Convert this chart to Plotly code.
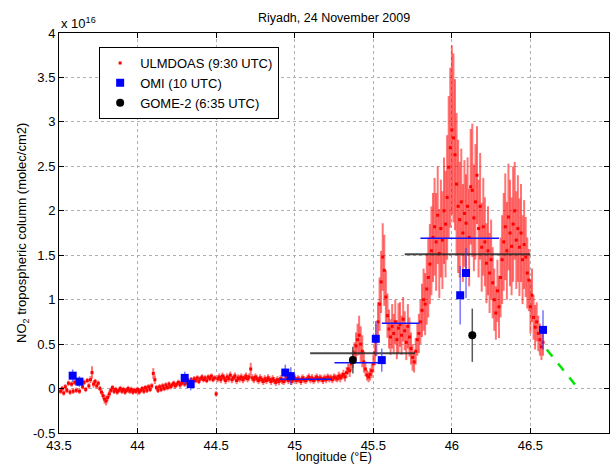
import plotly.graph_objects as go

# ---------------- DATA (values in units of 1e16 molec/cm2) ----------------
ulm_lon = [43.51,43.52,43.53,43.54,43.55,43.56,43.57,43.58,43.59,43.60,43.61,43.62,43.63,43.64,43.65,43.66,43.67,43.68,43.69,43.70,
           43.71,43.72,43.73,43.74,43.75,43.76,43.77,43.78,43.79,43.80,43.81,43.82,43.83,43.84,43.85,43.86,43.87,43.88,43.89,43.90,
           43.91,43.92,43.93,43.94,43.95,43.96,43.97,43.98,43.99,44.00,44.01,44.02,44.03,44.04,44.05,44.06,44.07,44.08,44.09,44.10,
           44.11,44.12,44.13,44.14,44.15,44.16,44.17,44.18,44.19,44.20,44.21,44.22,44.23,44.24,44.25,44.26,44.27,44.28,44.29,44.30,
           44.31,44.32,44.33,44.34,44.35,44.36,44.37,44.38,44.39,44.40,44.41,44.42,44.43,44.44,44.45,44.46,44.47,44.48,44.49,44.50,
           44.51,44.52,44.53,44.54,44.55,44.56,44.57,44.58,44.59,44.60,44.61,44.62,44.63,44.64,44.65,44.66,44.67,44.68,44.69,44.70,
           44.71,44.72,44.73,44.74,44.75,44.76,44.77,44.78,44.79,44.80,44.81,44.82,44.83,44.84,44.85,44.86,44.87,44.88,44.89,44.90,
           44.91,44.92,44.93,44.94,44.95,44.96,44.97,44.98,44.99,45.00,45.01,45.02,45.03,45.04,45.05,45.06,45.07,45.08,45.09,45.10,
           45.11,45.12,45.13,45.14,45.15,45.16,45.17,45.18,45.19,45.20,45.21,45.22,45.23,45.24,45.25,45.26,45.27,45.28,45.29,
           45.30,45.31,45.32,45.33,45.34,45.35,45.36,45.37,45.38,45.39,45.40,45.41,45.42,45.43,45.44,45.45,45.46,45.47,45.48,45.49,
           45.50,45.51,45.52,45.53,45.54,45.55,45.56,45.57,45.58,45.59,45.60,45.61,45.62,45.63,45.64,45.65,45.66,45.67,45.68,45.69,
           45.70,45.71,45.72,45.73,45.74,45.75,45.76,45.77,45.78,45.79,45.80,45.81,45.82,45.83,45.84,45.85,45.86,45.87,45.88,45.89,
           45.90,45.91,45.92,45.93,45.94,45.95,45.96,45.97,45.98,45.99,46.00,46.01,46.02,46.03,46.04,46.05,46.06,46.07,46.08,46.09,
           46.10,46.11,46.12,46.13,46.14,46.15,46.16,46.17,46.18,46.19,46.20,46.21,46.22,46.23,46.24,46.25,46.26,46.27,46.28,46.29,
           46.30,46.31,46.32,46.33,46.34,46.35,46.36,46.37,46.38,46.39,46.40,46.41,46.42,46.43,46.44,46.45,46.46,46.47,46.48,46.49,
           46.50,46.51,46.52,46.53,46.54,46.55,46.56,46.57,46.58]
ulm_val = [-0.03,0.00,-0.05,0.02,-0.02,0.06,-0.04,0.05,-0.03,0.07,-0.02,0.06,-0.03,0.08,0.02,0.07,-0.01,0.09,0.03,0.10,
           0.18,0.05,0.08,0.03,0.06,0.00,-0.04,-0.08,-0.12,-0.14,-0.10,-0.06,-0.02,0.01,-0.03,-0.01,-0.04,-0.02,0.00,-0.03,
           -0.01,-0.04,-0.02,0.00,-0.03,-0.01,-0.04,-0.02,-0.03,-0.01,-0.04,-0.02,0.00,-0.03,0.01,-0.02,0.02,-0.01,0.03,0.17,
           0.10,0.01,-0.02,0.02,-0.01,0.03,0.00,0.04,0.01,0.05,0.02,0.04,0.06,0.03,0.05,0.07,0.04,0.06,0.08,0.05,
           0.07,0.09,0.06,0.10,0.08,0.11,0.09,0.12,0.08,0.11,0.13,0.10,0.12,0.09,0.13,0.11,0.14,0.10,0.12,-0.06,
           0.11,0.13,0.10,0.14,0.12,0.09,0.13,0.11,0.15,0.10,0.12,0.14,0.09,0.12,0.11,0.13,0.10,0.12,0.14,0.11,
           0.13,0.22,0.12,0.10,0.13,0.11,0.09,0.12,0.10,0.08,0.11,0.09,0.12,0.10,0.08,0.11,0.09,0.07,0.10,0.08,
           0.11,0.09,0.08,0.10,0.12,0.09,0.11,0.08,0.10,0.12,0.09,0.11,0.10,0.08,0.12,0.10,0.09,0.11,0.13,0.10,
           0.12,0.09,0.11,0.13,0.10,0.12,0.11,0.09,0.12,0.10,0.13,0.11,0.12,0.10,0.13,0.12,0.11,0.14,0.12,
           0.14,0.16,0.13,0.18,0.22,0.20,0.28,0.33,0.40,0.48,0.55,0.60,0.50,0.42,0.30,0.22,0.15,0.13,0.16,0.20,
           0.28,0.40,0.55,0.75,0.95,1.20,1.48,1.33,1.03,0.82,0.67,0.58,0.70,0.62,0.75,0.55,0.68,0.72,0.60,0.78,
           0.65,0.52,0.70,0.58,0.45,0.35,0.30,0.42,0.55,0.62,0.75,0.88,1.00,0.95,1.12,1.25,1.40,1.55,1.70,1.82,
           1.65,1.95,1.52,1.80,1.67,2.00,1.85,2.15,2.49,2.71,2.91,2.82,2.63,2.30,2.05,1.90,2.10,1.75,1.97,1.86,
           2.05,1.70,2.27,2.23,1.92,2.10,2.40,1.80,2.05,1.59,1.82,1.65,1.41,1.55,1.30,1.45,1.19,1.00,0.85,1.10,
           0.92,1.25,1.45,1.65,1.82,1.55,1.93,1.75,1.60,1.85,2.00,1.67,1.80,1.59,1.75,1.45,1.62,1.48,1.30,1.22,
           0.92,1.05,0.80,0.69,0.75,0.62,0.55,0.47,0.52]
ulm_err = [0.03,0.03,0.03,0.03,0.03,0.03,0.03,0.03,0.03,0.03,0.03,0.03,0.03,0.03,0.03,0.03,0.03,0.03,0.03,0.04,
           0.07,0.04,0.03,0.03,0.03,0.03,0.03,0.04,0.05,0.05,0.04,0.04,0.03,0.03,0.03,0.03,0.03,0.03,0.03,0.03,
           0.03,0.03,0.03,0.03,0.03,0.03,0.03,0.03,0.03,0.03,0.03,0.03,0.03,0.03,0.03,0.03,0.03,0.03,0.03,0.06,
           0.05,0.03,0.03,0.03,0.03,0.03,0.03,0.03,0.03,0.03,0.03,0.03,0.03,0.03,0.03,0.03,0.03,0.03,0.03,0.03,
           0.03,0.03,0.03,0.03,0.03,0.03,0.03,0.03,0.03,0.03,0.03,0.03,0.03,0.03,0.03,0.03,0.03,0.03,0.03,0.03,
           0.04,0.04,0.04,0.04,0.04,0.04,0.04,0.04,0.04,0.04,0.04,0.04,0.04,0.04,0.04,0.04,0.04,0.04,0.04,0.04,
           0.04,0.07,0.04,0.04,0.04,0.04,0.04,0.04,0.04,0.04,0.04,0.04,0.04,0.04,0.04,0.04,0.04,0.04,0.04,0.04,
           0.04,0.04,0.04,0.04,0.04,0.04,0.04,0.04,0.04,0.04,0.04,0.04,0.04,0.04,0.04,0.04,0.04,0.04,0.04,0.04,
           0.04,0.04,0.04,0.04,0.04,0.04,0.04,0.04,0.04,0.04,0.04,0.04,0.04,0.04,0.04,0.04,0.04,0.05,0.05,
           0.04,0.05,0.05,0.06,0.06,0.07,0.08,0.10,0.12,0.15,0.18,0.22,0.20,0.18,0.12,0.08,0.06,0.06,0.07,0.08,
           0.10,0.14,0.18,0.22,0.30,0.35,0.38,0.40,0.30,0.25,0.22,0.20,0.25,0.22,0.25,0.22,0.28,0.25,0.22,0.25,
           0.22,0.20,0.25,0.22,0.18,0.15,0.12,0.15,0.18,0.22,0.25,0.30,0.35,0.35,0.40,0.45,0.45,0.50,0.50,0.55,
           0.55,0.55,0.50,0.55,0.55,0.60,0.60,0.70,0.80,0.90,0.95,0.95,0.85,0.80,0.75,0.65,0.60,0.55,0.60,0.55,
           0.55,0.55,0.65,0.75,0.60,0.65,0.55,0.55,0.60,0.50,0.55,0.50,0.45,0.50,0.45,0.45,0.40,0.35,0.30,0.35,
           0.35,0.45,0.50,0.55,0.60,0.55,0.60,0.60,0.55,0.65,0.55,0.55,0.60,0.55,0.55,0.50,0.50,0.45,0.40,0.35,
           0.30,0.30,0.25,0.25,0.22,0.20,0.18,0.15,0.15]

omi_lon = [43.587, 43.630, 44.300, 44.338, 44.940, 44.975, 45.516, 45.554, 46.053, 46.090, 46.580]
omi_val = [0.145, 0.078, 0.120, 0.050, 0.180, 0.140, 0.560, 0.320, 1.050, 1.300, 0.660]
omi_err = [0.07, 0.06, 0.07, 0.07, 0.09, 0.10, 0.20, 0.13, 0.33, 0.28, 0.22]

gome_lon = [45.370, 46.130]
gome_val = [0.320, 0.600]
gome_err = [0.15, 0.30]

# ULMDOAS averaged over satellite pixels: (lon start, lon end, value)
omi_avg_start = [44.906, 45.253, 45.554, 45.800]
omi_avg_end = [45.236, 45.554, 45.793, 46.300]
omi_avg_val = [0.105, 0.290, 0.735, 1.690]

gome_avg_start = [45.098, 45.700]
gome_avg_end = [45.766, 46.500]
gome_avg_val = [0.397, 1.510]

green_lon = [46.604, 46.795]
green_val = [0.44, 0.02]

y_ticks = [-0.5, 0, 0.5, 1, 1.5, 2, 2.5, 3, 3.5, 4]
y_ticktext = ["-0.5", "0", "0.5", "1", "1.5", "2", "2.5", "3", "3.5", "4"]
x_ticks = [43.5, 44, 44.5, 45, 45.5, 46, 46.5, 47]

# ---------------- FIGURE ----------------
FONT = "Liberation Sans, Arial, sans-serif"
fig = go.Figure()

fig.add_trace(go.Scatter(
    x=ulm_lon, y=ulm_val, mode="markers", name="ULMDOAS (9:30 UTC)",
    marker=dict(color="red", size=3, symbol="square"),
    error_y=dict(type="data", array=ulm_err, visible=True,
                 color="rgba(255,0,0,0.55)", thickness=2, width=0),
))

for s, e, v in zip(gome_avg_start, gome_avg_end, gome_avg_val):
    fig.add_trace(go.Scatter(x=[s, e], y=[v, v], mode="lines",
                             line=dict(color="rgba(40,40,40,0.85)", width=2),
                             showlegend=False, hoverinfo="skip"))
for s, e, v in zip(omi_avg_start, omi_avg_end, omi_avg_val):
    fig.add_trace(go.Scatter(x=[s, e], y=[v, v], mode="lines",
                             line=dict(color="rgb(20,20,255)", width=1.5),
                             showlegend=False, hoverinfo="skip"))

fig.add_trace(go.Scatter(
    x=omi_lon, y=omi_val, mode="markers", name="OMI (10 UTC)",
    marker=dict(color="rgb(0,0,255)", size=8, symbol="square"),
    error_y=dict(type="data", array=omi_err, visible=True,
                 color="rgba(60,60,255,0.7)", thickness=1.5, width=0),
))
fig.add_trace(go.Scatter(
    x=gome_lon, y=gome_val, mode="markers", name="GOME-2 (6:35 UTC)",
    marker=dict(color="black", size=8, symbol="circle"),
    error_y=dict(type="data", array=gome_err, visible=True,
                 color="rgba(60,60,60,0.85)", thickness=1.5, width=0),
))
fig.add_trace(go.Scatter(
    x=green_lon, y=green_val, mode="lines",
    line=dict(color="rgb(0,230,0)", width=2.5, dash="dash"),
    showlegend=False, hoverinfo="skip"))

axis_common = dict(
    showline=True, linecolor="black", linewidth=1, mirror="ticks",
    ticks="inside", ticklen=5, tickcolor="black",
    showgrid=True, gridcolor="rgb(175,175,175)", griddash="dot", gridwidth=1,
    zeroline=False, tickfont=dict(family=FONT, size=13, color="black"),
)

fig.update_layout(
    width=616, height=464,
    margin=dict(l=59, r=7, t=33, b=31),
    paper_bgcolor="white", plot_bgcolor="white",
    font=dict(family=FONT, size=13, color="black"),
    title=dict(text="Riyadh, 24 November 2009", x=(59 + 609) / 2 / 616, xanchor="center",
               y=1 - 18 / 464, yanchor="middle", font=dict(family=FONT, size=12.5, color="black")),
    xaxis=dict(range=[43.5, 47], tickvals=x_ticks, **axis_common),
    yaxis=dict(range=[-0.5, 4], tickvals=y_ticks, ticktext=y_ticktext, **axis_common),
    legend=dict(x=0.073, y=0.965, xanchor="left", yanchor="top",
                bgcolor="white", bordercolor="black", borderwidth=1,
                font=dict(family=FONT, size=13), tracegroupgap=0, itemsizing="trace"),
    showlegend=True,
    annotations=[
        dict(text="x 10<sup>16</sup>", xref="paper", yref="paper", x=0, y=1,
             xanchor="left", yanchor="bottom", showarrow=False,
             font=dict(family=FONT, size=13)),
        dict(text="longitude (°E)", xref="paper", yref="paper", x=0.5, y=0,
             xanchor="center", yanchor="bottom", yshift=-32, showarrow=False,
             font=dict(family=FONT, size=12.5), borderpad=0),
        dict(text="NO<sub>2</sub> tropospheric column (molec/cm2)", xref="paper", yref="paper",
             x=0, y=0.5, xanchor="center", yanchor="middle", xshift=-37, textangle=-90,
             showarrow=False, font=dict(family=FONT, size=13)),
    ],
)

fig.write_html("out.html", config={"displayModeBar": False},
               post_script="document.body.style.margin='0';document.body.style.overflow='hidden';")
